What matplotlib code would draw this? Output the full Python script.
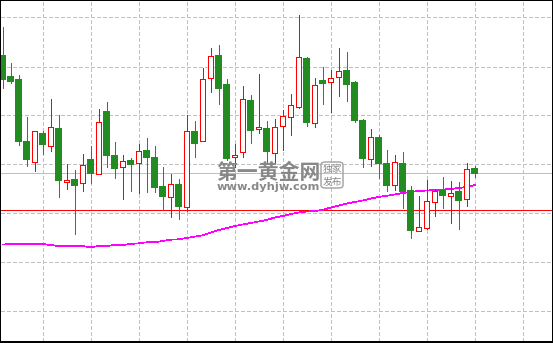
import numpy as np
import matplotlib
matplotlib.use('Agg')
import matplotlib.pyplot as plt
from matplotlib.patches import FancyBboxPatch

plt.rcParams['lines.scale_dashes'] = False

# candle data (oldest -> newest)
opens = [1294.40, 1292.30, 1292.00, 1285.80, 1283.83, 1286.60, 1285.43, 1287.10, 1281.83, 1282.00,
         1281.67, 1284.00, 1282.57, 1288.80, 1284.40, 1283.27, 1283.90, 1283.67, 1284.90, 1284.20,
         1281.27, 1280.27, 1281.50, 1279.33, 1286.80, 1285.87, 1292.17, 1294.40, 1291.50, 1284.27,
         1284.77, 1289.90, 1287.07, 1287.13, 1284.73, 1287.43, 1288.27, 1289.27, 1294.10, 1287.73,
         1291.90, 1291.77, 1292.27, 1292.90, 1291.70, 1287.90, 1284.13, 1286.20, 1283.60, 1281.47,
         1283.60, 1280.90, 1276.87, 1277.23, 1279.77, 1280.90, 1280.37, 1280.80, 1280.07, 1283.10]
highs = [1297.33, 1293.70, 1292.50, 1288.30, 1286.87, 1286.90, 1290.10, 1288.50, 1283.60, 1283.00,
         1284.60, 1285.43, 1289.10, 1289.80, 1285.80, 1284.50, 1284.20, 1285.60, 1286.23, 1285.40,
         1283.30, 1282.63, 1282.10, 1288.50, 1287.93, 1293.20, 1295.17, 1295.50, 1292.10, 1285.60,
         1291.37, 1290.47, 1292.60, 1287.90, 1288.13, 1289.00, 1290.60, 1298.50, 1294.33, 1292.17,
         1293.27, 1293.00, 1295.17, 1294.80, 1291.90, 1288.10, 1287.10, 1286.50, 1285.00, 1284.50,
         1284.77, 1281.40, 1280.40, 1282.00, 1281.10, 1282.30, 1281.90, 1281.80, 1283.70, 1283.37]
lows = [1291.23, 1291.67, 1285.50, 1283.43, 1282.93, 1284.60, 1284.93, 1280.33, 1281.10, 1276.63,
        1280.90, 1281.73, 1282.57, 1283.33, 1282.23, 1280.10, 1280.90, 1280.67, 1280.83, 1280.83,
        1279.00, 1278.33, 1278.13, 1278.93, 1284.30, 1285.87, 1290.83, 1289.57, 1284.00, 1283.33,
        1284.33, 1285.73, 1286.67, 1283.73, 1283.73, 1285.00, 1286.50, 1289.20, 1287.40, 1287.33,
        1289.60, 1288.83, 1290.40, 1289.90, 1287.80, 1283.33, 1283.43, 1282.23, 1280.90, 1281.00,
        1279.23, 1276.23, 1276.87, 1277.07, 1278.43, 1279.23, 1277.73, 1277.13, 1279.43, 1282.33]
closes = [1292.13, 1291.93, 1285.93, 1284.13, 1286.87, 1285.60, 1287.27, 1282.00, 1282.00, 1281.50,
          1283.50, 1282.73, 1287.77, 1284.53, 1283.23, 1283.87, 1283.63, 1284.87, 1284.33, 1281.33,
          1280.43, 1281.60, 1279.43, 1286.87, 1285.73, 1292.07, 1294.37, 1291.23, 1284.23, 1284.50,
          1290.10, 1287.03, 1287.30, 1284.93, 1287.30, 1288.40, 1289.47, 1294.27, 1287.83, 1291.47,
          1291.67, 1292.17, 1292.90, 1291.57, 1288.03, 1284.23, 1286.27, 1283.73, 1281.50, 1283.77,
          1280.93, 1277.03, 1277.33, 1279.87, 1280.90, 1280.53, 1280.67, 1280.03, 1283.07, 1282.67]

# moving average
ma = [1275.55, 1275.60, 1275.60, 1275.60, 1275.60, 1275.60, 1275.50, 1275.40, 1275.40, 1275.40,
      1275.40, 1275.27, 1275.40, 1275.40, 1275.50, 1275.50, 1275.60, 1275.67, 1275.77, 1275.77,
      1275.90, 1276.03, 1276.07, 1276.20, 1276.33, 1276.47, 1276.75, 1277.00, 1277.20, 1277.40,
      1277.55, 1277.70, 1277.85, 1278.00, 1278.25, 1278.40, 1278.60, 1278.75, 1278.85, 1278.90,
      1279.00, 1279.25, 1279.45, 1279.65, 1279.80, 1279.95, 1280.15, 1280.30, 1280.43, 1280.55,
      1280.70, 1280.80, 1280.90, 1280.95, 1281.00, 1281.05, 1281.10, 1281.20, 1281.30, 1281.50]

level_line = 1278.97
grid_prices = [1298.27, 1293.35, 1288.47, 1283.57, 1278.67, 1273.80, 1268.87]
grid_bars = [5, 11, 17, 23, 29, 35, 41, 47, 53, 59, 65]

W, H = 553, 343
fig = plt.figure(figsize=(W / 100, H / 100), dpi=100, facecolor='black')
ax = fig.add_axes([1 / W, 2.3 / H, 550.5 / W, 339.7 / H])
ax.set_facecolor('white')
for s in ax.spines.values():
    s.set_visible(False)

x = np.arange(len(opens))
o = np.array(opens); c = np.array(closes)
up = c >= o
green = '#228B22'
lw = 0.6  # thin, ~1px lines when not antialiased

ax.set_xticks(grid_bars)
ax.set_yticks(grid_prices)
ax.grid(True, color='#c0c0c0', linewidth=lw, linestyle=(0, (2.3, 1.8)), zorder=0,
        antialiased=False)
ax.tick_params(length=0, labelbottom=False, labelleft=False)

ax.axhline(level_line, color='red', linewidth=lw, zorder=1, antialiased=False)
ax.axhline(closes[-1], color='#c0c0c0', linewidth=lw, zorder=1, antialiased=False)

ax.plot(x, ma, color='#ff00ff', linewidth=0.5, zorder=2, antialiased=False)

wick_col = [('red' if u else green) for u in up]
ax.vlines(x, lows, highs, colors=wick_col, linewidth=lw, zorder=3, antialiased=False)

bottoms = np.minimum(o, c)
heights = np.maximum(np.abs(c - o), 0.1)
ax.bar(x[up], heights[up], bottom=bottoms[up], width=0.56, facecolor='white',
       edgecolor='red', linewidth=lw, zorder=4, antialiased=False)
ax.bar(x[~up], heights[~up], bottom=bottoms[~up], width=0.62, facecolor=green,
       edgecolor=green, linewidth=0.3, zorder=4, antialiased=False)

ax.set_xlim(-0.2125, 68.6)
ax.set_ylim(1265.93, 1299.9)

# watermark
wm = '#888888'
cjk = ['Noto Sans CJK SC', 'DejaVu Sans']
fig.text(268 / W, 1 - 172.5 / H, '第一黄金网', family=cjk, fontsize=15, fontweight='bold',
         color=wm, ha='center', va='center', zorder=10)
fig.text(268 / W, 1 - 187.5 / H, 'www.dyhjw.com', family='DejaVu Sans', fontsize=8.2,
         fontweight='bold', color=wm, ha='center', va='center', zorder=10)
box = FancyBboxPatch((321 / W, 1 - 188 / H), 22 / W, 26 / H,
                     boxstyle='round,pad=0,rounding_size=0.008', transform=fig.transFigure,
                     facecolor='none', edgecolor='#a0a0a0', linewidth=1.0, zorder=10)
fig.patches.append(box)
fig.text(332 / W, 1 - 169 / H, '独家', family=cjk, fontsize=7, color=wm,
         ha='center', va='center', zorder=10)
fig.text(332 / W, 1 - 181.5 / H, '发布', family=cjk, fontsize=7, color=wm,
         ha='center', va='center', zorder=10)

plt.savefig('out.png', dpi=100, facecolor='black')
